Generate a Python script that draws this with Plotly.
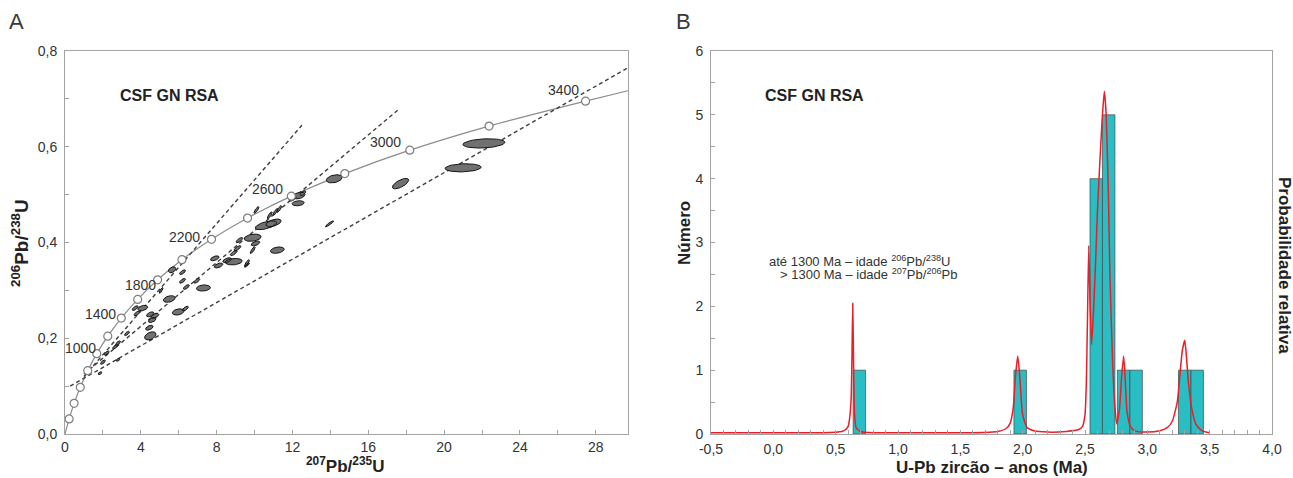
import numpy as np
import plotly.graph_objects as go

W, H = 1293, 478

# ---------------- Panel A: concordia diagram ----------------
# Concordia reference points every 200 Ma (207Pb/235U, 206Pb/238U)
conc_age = [0, 200, 400, 600, 800, 1000, 1200, 1400, 1600, 1800, 2000,
            2200, 2400, 2600, 2800, 3000, 3200, 3400]
conc_x = [0.0, 0.218, 0.481, 0.806, 1.199, 1.677, 2.257, 2.970, 3.834, 4.886,
          6.169, 7.729, 9.630, 11.94, 14.76, 18.19, 22.37, 27.46]
conc_y = [0.0, 0.0315, 0.064, 0.0975, 0.1322, 0.1678, 0.2044, 0.2422, 0.2812,
          0.3221, 0.3641, 0.4067, 0.4511, 0.4968, 0.5439, 0.5929, 0.6432, 0.6953]
conc_end = (29.7, 0.717)

# Ages written next to the concordia and where each label sits
label_age = ["1000", "1400", "1800", "2200", "2600", "3000", "3400"]
label_x = [0.8, 1.85, 4.0, 6.3, 10.7, 16.9, 26.3]
label_y = [0.180, 0.250, 0.311, 0.411, 0.512, 0.610, 0.718]

# Discordia chords (start and end points)
disc_x0 = [1.0, 1.0, 0.27]
disc_y0 = [0.120, 0.125, 0.100]
disc_x1 = [12.5, 17.6, 29.7]
disc_y1 = [0.645, 0.678, 0.765]

# Analyses: centre, 2-sigma errors and error correlation
ell_x = [22.1, 21.0, 17.7, 14.2, 13.95, 11.2, 12.35, 12.0, 12.3, 12.55,
         10.6, 11.0, 9.9, 10.05, 8.9, 7.9, 8.1, 8.55, 9.2, 9.1,
         8.9, 10.1, 10.8, 11.1, 11.3, 9.9, 9.6, 7.3, 5.65, 5.07,
         5.5, 6.4, 6.2, 6.95, 6.2, 5.97, 4.5, 4.1, 4.5, 4.75,
         4.6, 4.45, 3.8, 3.7, 2.8, 2.64, 2.2, 2.0, 1.85, 2.8,
         3.27, 6.35, 9.6]
ell_y = [0.607, 0.556, 0.523, 0.533, 0.439, 0.384, 0.498, 0.492, 0.482, 0.503,
         0.436, 0.441, 0.410, 0.398, 0.360, 0.367, 0.352, 0.363, 0.405, 0.388,
         0.378, 0.468, 0.457, 0.464, 0.470, 0.384, 0.357, 0.305, 0.343, 0.300,
         0.282, 0.307, 0.320, 0.320, 0.338, 0.255, 0.205, 0.263, 0.250, 0.247,
         0.238, 0.222, 0.252, 0.263, 0.190, 0.182, 0.169, 0.150, 0.127, 0.155,
         0.210, 0.262, 0.353]
ell_sx = [1.11, 0.95, 0.43, 0.415, 0.22, 0.365, 0.31, 0.19, 0.32, 0.15,
          0.56, 0.40, 0.445, 0.226, 0.448, 0.226, 0.226, 0.226, 0.18, 0.18,
          0.18, 0.13, 0.13, 0.13, 0.13, 0.13, 0.13, 0.37, 0.195, 0.10,
          0.31, 0.158, 0.158, 0.158, 0.158, 0.31, 0.30, 0.257, 0.197, 0.197,
          0.197, 0.197, 0.158, 0.158, 0.13, 0.13, 0.13, 0.13, 0.10, 0.10,
          0.13, 0.158, 0.13]
ell_sy = [0.0097, 0.0085, 0.0109, 0.0085, 0.0062, 0.0067, 0.0069, 0.0055, 0.0053, 0.005,
          0.0092, 0.008, 0.0076, 0.0051, 0.0068, 0.0051, 0.0051, 0.0051, 0.0054, 0.0054,
          0.0054, 0.007, 0.007, 0.007, 0.007, 0.007, 0.007, 0.0064, 0.0062, 0.006,
          0.0069, 0.0049, 0.0049, 0.0049, 0.0049, 0.0066, 0.0085, 0.0057, 0.0052, 0.0052,
          0.0052, 0.0052, 0.0049, 0.0049, 0.0045, 0.0045, 0.0045, 0.0045, 0.003, 0.003,
          0.0045, 0.0049, 0.0045]
ell_rho = [0.23, 0.15, 0.67, 0.32, 0.92, 0.31, 0.35, 0.54, 0.20, 0.60,
           0.58, 0.50, 0.27, 0.50, 0.20, 0.50, 0.50, 0.50, 0.73, 0.73,
           0.73, 0.82, 0.82, 0.82, 0.82, 0.82, 0.82, 0.15, 0.39, 0.80,
           0.35, 0.67, 0.67, 0.67, 0.67, 0.30, 0.40, 0.35, 0.50, 0.50,
           0.50, 0.50, 0.67, 0.67, 0.70, 0.70, 0.70, 0.70, 0.50, 0.50,
           0.70, 0.67, 0.82]

# ---------------- Panel B: age histogram ----------------
bin_center = [0.69, 1.98, 2.59, 2.69, 2.81, 2.91, 3.30, 3.40]
bin_count = [1, 1, 4, 5, 1, 1, 1, 1]

# Relative probability curve
prob_x = [-0.50, 0.00, 0.40, 0.55, 0.58, 0.60, 0.614, 0.624, 0.630, 0.637,
          0.644, 0.650, 0.664, 0.70, 0.80, 1.20, 1.60, 1.80, 1.87, 1.90,
          1.925, 1.94, 1.96, 1.975, 1.99, 2.00, 2.035, 2.09, 2.20, 2.35,
          2.45, 2.48, 2.50, 2.51, 2.52, 2.53, 2.54, 2.553, 2.57, 2.587,
          2.60, 2.62, 2.64, 2.655, 2.67, 2.687, 2.70, 2.72, 2.737, 2.754,
          2.777, 2.794, 2.81, 2.824, 2.837, 2.864, 2.90, 3.00, 3.10, 3.16,
          3.20, 3.24, 3.26, 3.28, 3.30, 3.31, 3.33, 3.356, 3.39, 3.44,
          3.50]
prob_y = [0.02, 0.02, 0.02, 0.04, 0.07, 0.12, 0.28, 0.55, 1.10, 2.05,
          1.05, 0.35, 0.10, 0.04, 0.02, 0.02, 0.02, 0.04, 0.09, 0.17,
          0.42, 0.85, 1.22, 0.95, 0.50, 0.30, 0.10, 0.05, 0.03, 0.04,
          0.07, 0.12, 0.30, 0.75, 1.80, 2.95, 2.10, 1.40, 2.00, 2.80,
          3.50, 4.30, 5.00, 5.37, 5.00, 3.80, 2.50, 1.20, 0.50, 0.16,
          0.40, 0.90, 1.22, 0.80, 0.35, 0.12, 0.05, 0.03, 0.05, 0.10,
          0.20, 0.50, 0.90, 1.30, 1.47, 1.30, 0.80, 0.40, 0.15, 0.05,
          0.02]

# ---------------- styling helpers ----------------
NARROW = "Liberation Sans Narrow, Arial Narrow, Liberation Sans, Arial, sans-serif"
SANS = "Liberation Sans, Arial, sans-serif"
FRAME = "#a3a3a3"
TXT = "#333333"


def px(xp):
    return xp / W


def py(yp):
    return 1 - yp / H


def ellipse(cx, cy, sx, sy, rho, n=48):
    t = np.linspace(0, 2 * np.pi, n)
    ex = cx + sx * np.cos(t)
    ey = cy + sy * (rho * np.cos(t) + np.sqrt(1 - rho ** 2) * np.sin(t))
    return ex, ey


fig = go.Figure()

# Concordia curve and its age markers
fig.add_trace(go.Scatter(
    x=conc_x + [conc_end[0]], y=conc_y + [conc_end[1]],
    mode="lines", line=dict(color="#8c8c8c", width=1.2, shape="spline", smoothing=0.6),
    xaxis="x", yaxis="y", hoverinfo="skip", showlegend=False))

# Discordia chords
for x0, y0, x1, y1 in zip(disc_x0, disc_y0, disc_x1, disc_y1):
    fig.add_trace(go.Scatter(
        x=[x0, x1], y=[y0, y1], mode="lines",
        line=dict(color="#3f3f3f", width=1.4, dash="4px,3px"),
        xaxis="x", yaxis="y", hoverinfo="skip", showlegend=False))

# Error ellipses
ex_all, ey_all = [], []
for cx, cy, sx, sy, r in zip(ell_x, ell_y, ell_sx, ell_sy, ell_rho):
    ex, ey = ellipse(cx, cy, sx, sy, r)
    ex_all += list(ex) + [None]
    ey_all += list(ey) + [None]
fig.add_trace(go.Scatter(
    x=ex_all, y=ey_all, mode="lines", fill="toself",
    fillcolor="rgb(112,112,112)", line=dict(color="rgb(20,20,20)", width=1),
    xaxis="x", yaxis="y", hoverinfo="skip", showlegend=False))

fig.add_trace(go.Scatter(
    x=conc_x[1:], y=conc_y[1:], mode="markers",
    marker=dict(size=8, color="white", line=dict(color="#7d7d7d", width=1.2)),
    xaxis="x", yaxis="y", hoverinfo="skip", showlegend=False))

# Histogram bars
fig.add_trace(go.Bar(
    x=bin_center, y=bin_count, width=0.1,
    marker=dict(color="rgb(40,190,196)", line=dict(color="rgb(70,70,70)", width=0.7)),
    xaxis="x2", yaxis="y2", hoverinfo="skip", showlegend=False))

# Probability curve
fig.add_trace(go.Scatter(
    x=prob_x, y=prob_y, mode="lines",
    line=dict(color="rgb(232,30,40)", width=1.5, shape="spline", smoothing=0.5),
    xaxis="x2", yaxis="y2", hoverinfo="skip", showlegend=False))

# ---------------- axes ----------------
ax_common = dict(showline=True, linecolor=FRAME, linewidth=1, mirror=True,
                 ticks="inside", ticklen=4, tickcolor=FRAME, tickwidth=1,
                 showgrid=False, zeroline=False, fixedrange=True, automargin=False,
                 tickfont=dict(family=NARROW, size=14, color=TXT))

xa_vals = list(range(0, 29, 2))
xa_text = [str(v) if v % 4 == 0 else "" for v in xa_vals]
ya_vals = [round(0.1 * i, 1) for i in range(9)]
ya_text = [f"{v:.1f}".replace(".", ",") if i % 2 == 0 else "" for i, v in enumerate(ya_vals)]

xb_vals = [round(-0.5 + 0.1 * i, 1) for i in range(46)]
xb_text = [f"{v:.1f}".replace(".", ",") if i % 5 == 0 else "" for i, v in enumerate(xb_vals)]
yb_vals = [0.5 * i for i in range(13)]
yb_text = [str(int(v)) if i % 2 == 0 else "" for i, v in enumerate(yb_vals)]

y_dom = [py(434), py(51)]
fig.update_layout(
    width=W, height=H, margin=dict(l=0, r=0, t=0, b=0, autoexpand=False),
    paper_bgcolor="white", plot_bgcolor="white",
    xaxis=dict(domain=[px(65), px(628)], range=[0, 29.7], anchor="y",
               tickvals=xa_vals, ticktext=xa_text, ticklabelstandoff=0, **ax_common),
    yaxis=dict(domain=y_dom, range=[0, 0.8], anchor="x",
               tickvals=ya_vals, ticktext=ya_text, ticklabelstandoff=4, **ax_common),
    xaxis2=dict(domain=[px(711), px(1272)], range=[-0.5, 4.0], anchor="y2",
                tickvals=xb_vals, ticktext=xb_text, ticklabelstandoff=2, **ax_common),
    yaxis2=dict(domain=y_dom, range=[0, 6], anchor="x2",
                tickvals=yb_vals, ticktext=yb_text, ticklabelstandoff=4, **ax_common),
)

# ---------------- text ----------------
ann = []


def text(s, xp, yp, size, family=SANS, xanchor="center", yanchor="middle",
         angle=0, color=TXT):
    ann.append(dict(text=s, x=px(xp), y=py(yp), xref="paper", yref="paper",
                    xanchor=xanchor, yanchor=yanchor, textangle=angle,
                    showarrow=False, font=dict(family=family, size=size, color=color)))


# Panel letters
text("A", 16, 22, 22, color="#3a3a3a")
text("B", 683, 22, 22, color="#3a3a3a")

# Sample names
text("<b>CSF GN RSA</b>", 118, 95, 16, xanchor="left", color="#222")
text("<b>CSF GN RSA</b>", 763, 95, 16, xanchor="left", color="#222")

# Concordia age labels (placed in data units)
for s, lx, ly in zip(label_age, label_x, label_y):
    ann.append(dict(text=s, x=lx, y=ly, xref="x", yref="y", showarrow=False,
                    font=dict(family=NARROW, size=14, color=TXT)))

# Axis titles
text("<b><sup>206</sup>Pb/<sup>238</sup>U</b>", 20, 243, 19, angle=-90, color="#222")
text("<b><sup>207</sup>Pb/<sup>235</sup>U</b>", 345, 477.5, 17, yanchor="bottom", color="#222")
text("<b>Número</b>", 684, 233, 17, angle=-90, color="#222")
text("<b>U-Pb zircão – anos (Ma)</b>", 992, 467, 17, color="#222")
text("<b>Probabilidade relativa</b>", 1285, 265, 17, angle=90, color="#222")

# Method note
text("até 1300 Ma – idade <sup>206</sup>Pb/<sup>238</sup>U", 767, 261, 13,
     family=NARROW, xanchor="left")
text("> 1300 Ma – idade <sup>207</sup>Pb/<sup>206</sup>Pb", 778, 274, 13,
     family=NARROW, xanchor="left")

fig.update_layout(annotations=ann)

fig.write_html("out.html")
